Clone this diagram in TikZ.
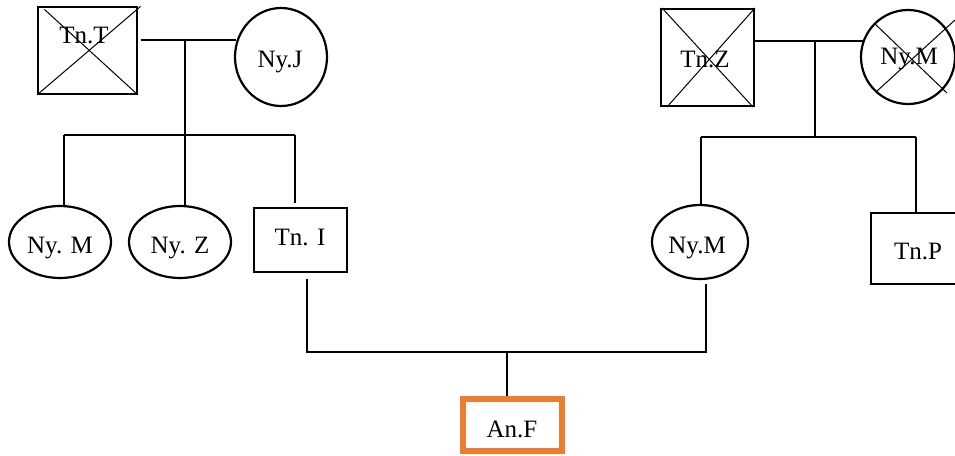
\documentclass[tikz,border=0pt]{standalone}
\usepackage{fontspec}
\setmainfont{Liberation Serif}
\usetikzlibrary{shapes.geometric}
\definecolor{orangebox}{RGB}{237,125,49}
\begin{document}
\begin{tikzpicture}[x=1pt,y=-1pt,
  conn/.style={draw=black,line width=1.1pt},
  thinbox/.style={draw=black,line width=1.1pt,rectangle,inner sep=0pt},
  thickbox/.style={draw=black,line width=2.2pt,rectangle,inner sep=0pt},
  oval/.style={draw=black,line width=2.2pt,ellipse,inner sep=0pt},
  lbl/.style={anchor=base,inner sep=0pt,font=\fontsize{25}{30}\selectfont},
  crossln/.style={draw=black,line width=1pt}]
\useasboundingbox (0,0) rectangle (955,455);
\clip (0,0) rectangle (955,455);
% ---- left grandparents ----
\node[thinbox,minimum width=99pt,minimum height=87pt] (tnT) at (87.5,50.5) {};
\draw[crossln] (tnT.south west) -- ([xshift=3pt]tnT.north east);
\draw[crossln] ([xshift=7pt,yshift=-3pt]tnT.north west) -- (tnT.south east);
\node[lbl] (tTnT) at (84,43) {Tn.T};
\node[oval,minimum width=92pt,minimum height=98pt] (nyJ) at (281,57) {};
\node[lbl] (tNyJ) at (280,67) {Ny.J};
% ---- right grandparents ----
\node[thickbox,minimum width=93pt,minimum height=97pt] (tnZ) at (707.5,57.5) {};
\draw[crossln] ([xshift=2pt]tnZ.north west) -- ([xshift=-2pt]tnZ.south east);
\draw[crossln] ([xshift=7pt]tnZ.south west) -- (tnZ.north east);
\node[lbl] (tTnZ) at (705,67) {Tn.Z};
\node[oval,minimum width=94pt,minimum height=94pt] (nyMt) at (908,57) {};
\draw[crossln] (nyMt.north west) -- ([xshift=5pt,yshift=-2pt]nyMt.south east);
\draw[crossln] ([xshift=3pt]nyMt.south west) -- ([xshift=13pt,yshift=3pt]nyMt.north east);
\node[lbl] (tNyMt) at (909,64) {Ny.M};
% ---- children, left ----
\node[oval,minimum width=102pt,minimum height=72pt] (nyM1) at (60,242) {};
\node[lbl] (tNyM1) at (60,253) {Ny. M};
\node[oval,minimum width=102pt,minimum height=72pt] (nyZ) at (180,242) {};
\node[lbl] (tNyZ) at (180,253) {Ny. Z};
\node[thinbox,minimum width=93pt,minimum height=64pt] (tnI) at (300.5,240) {};
\node[lbl] (tTnI) at (300,245) {Tn. I};
% ---- children, right ----
\node[oval,minimum width=96pt,minimum height=74pt] (nyM2) at (700,242) {};
\node[lbl] (tNyM2) at (697,253) {Ny.M};
\node[thickbox,minimum width=94pt,minimum height=71pt] (tnP) at (918,248.5) {};
\node[lbl] (tTnP) at (918,259) {Tn.P};
% ---- grandchild ----
\node[draw=orangebox,line width=6pt,rectangle,inner sep=0pt,minimum width=99pt,minimum height=52pt] (anF) at (512.5,425) {};
\node[lbl] (tAnF) at (512,437) {An.F};
% ---- coordinates ----
\coordinate (mT) at (185,40);
\coordinate (sT) at (185,135);
\coordinate (sL) at (64,135);
\coordinate (sR) at (295,135);
\coordinate (mZ) at (815,41);
\coordinate (sZ) at (815,137);
\coordinate (sZL) at (701,137);
\coordinate (sZR) at (916,137);
\coordinate (cL) at (307,352);
\coordinate (cR) at (706,352);
\coordinate (cM) at (507,352);
% ---- connectors left ----
\draw[conn] ([xshift=3pt]tnT.east |- mT) -- ([xshift=2pt]nyJ.west |- mT);
\draw[conn] (mT) -- (sT);
\draw[conn] (sL) -- (sR);
\draw[conn] (sL) -- (nyM1.north -| sL);
\draw[conn] (sT) -- (nyZ.north -| sT);
\draw[conn] (sR) -- ([yshift=4pt]tnI.north -| sR);
% ---- connectors right ----
\draw[conn] (tnZ.east |- mZ) -- ([xshift=3pt]nyMt.west |- mZ);
\draw[conn] (mZ) -- (sZ);
\draw[conn] (sZL) -- (sZR);
\draw[conn] (sZL) -- (nyM2.north -| sZL);
\draw[conn] (sZR) -- (tnP.north -| sZR);
% ---- parents to child ----
\draw[conn] ([yshift=-6pt]tnI.south -| cL) -- (cL) -- (cR) -- ([yshift=-4pt]nyM2.south -| cR);
\draw[conn] (cM) -- (anF.north -| cM);
\end{tikzpicture}
\end{document}
